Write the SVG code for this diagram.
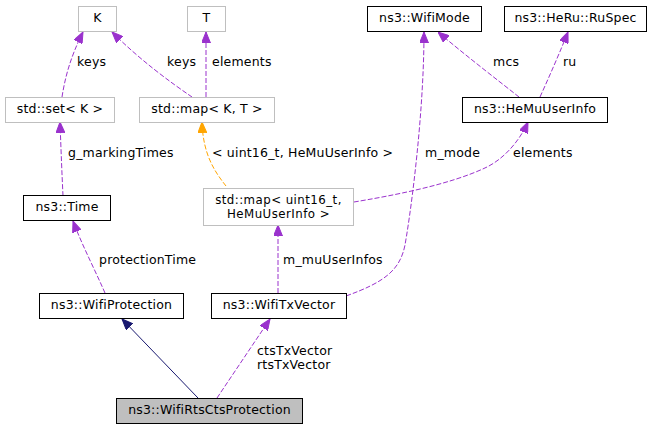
<svg xmlns="http://www.w3.org/2000/svg" width="652" height="429" viewBox="0 0 652 429">
<style>
text{font-family:"DejaVu Sans","Liberation Sans",sans-serif;font-size:12.5px;letter-spacing:0.2px;fill:#000}
.n text{text-anchor:middle}
.t2{font-size:11.8px;letter-spacing:0.45px}
.b{fill:#fff;stroke:#000;stroke-width:1}
.g{fill:#fff;stroke:#bfbfbf;stroke-width:1}
.e{fill:none;stroke:#9a32cd;stroke-width:1;stroke-dasharray:5,2}
.o{fill:none;stroke:#ffa500;stroke-width:1;stroke-dasharray:5,2}
.s{fill:none;stroke:#191970;stroke-width:1}
</style>
<defs>
<marker id="ap" viewBox="0 0 11 9" refX="11" refY="4.5" markerWidth="11" markerHeight="9" markerUnits="userSpaceOnUse" orient="auto"><path d="M0,0 L11,4.5 L0,9 Z" fill="#9a32cd" stroke="#9a32cd"/></marker>
<marker id="ao" viewBox="0 0 11 9" refX="11" refY="4.5" markerWidth="11" markerHeight="9" markerUnits="userSpaceOnUse" orient="auto"><path d="M0,0 L11,4.5 L0,9 Z" fill="#ffa500" stroke="#ffa500"/></marker>
<marker id="an" viewBox="0 0 11 9" refX="11" refY="4.5" markerWidth="11" markerHeight="9" markerUnits="userSpaceOnUse" orient="auto"><path d="M0,0 L11,4.5 L0,9 Z" fill="#191970" stroke="#191970"/></marker>
</defs>
<rect width="652" height="429" fill="#fff"/>
<g id="connectors">
<path class="e" d="M62,97 C65,78 70,58 83,32" marker-end="url(#ap)"/>
<path class="e" d="M192,97 C170,82 140,60 112,32" marker-end="url(#ap)"/>
<path class="e" d="M206,97 L206,32" marker-end="url(#ap)"/>
<path class="e" d="M63,196 C62,175 61,150 60,122" marker-end="url(#ap)"/>
<path class="o" d="M226,186 C215,172 203,155 202,122" marker-end="url(#ao)"/>
<path class="e" d="M354,202 C390,196 450,185 487,167 C505,158 520,140 528,122" marker-end="url(#ap)"/>
<path class="e" d="M519,97 C495,78 465,55 438,32" marker-end="url(#ap)"/>
<path class="e" d="M540,97 C550,75 560,52 568,32" marker-end="url(#ap)"/>
<path class="e" d="M346,296 C385,282 400,270 405,245 C412,205 424,110 424,32" marker-end="url(#ap)"/>
<path class="e" d="M278,293 L278,225" marker-end="url(#ap)"/>
<path class="e" d="M105,293 C95,270 82,245 73,221" marker-end="url(#ap)"/>
<path class="s" d="M198,398 L122,319" marker-end="url(#an)"/>
<path class="e" d="M217,398 L270,319" marker-end="url(#ap)"/>
<text x="77" y="66">keys</text>
<text x="167" y="66">keys</text>
<text x="212" y="66">elements</text>
<text x="493" y="66">mcs</text>
<text x="563" y="66">ru</text>
<text x="68" y="157">g_markingTimes</text>
<text x="212" y="157">&lt; uint16_t, HeMuUserInfo &gt;</text>
<text x="425" y="157">m_mode</text>
<text x="513" y="157">elements</text>
<text x="99" y="264">protectionTime</text>
<text x="283" y="264">m_muUserInfos</text>
<text x="257" y="355">ctsTxVector</text>
<text x="257" y="369">rtsTxVector</text>
</g>
<g id="K" class="n"><rect class="g" x="78.5" y="6.5" width="38" height="25"/><text x="97.5" y="22">K</text></g>
<g id="T" class="n"><rect class="g" x="187.5" y="6.5" width="38" height="25"/><text x="206.5" y="22">T</text></g>
<g id="stdset" class="n"><rect class="g" x="5.5" y="97.5" width="109" height="25"/><text x="60" y="113">std::set&lt; K &gt;</text></g>
<g id="stdmapKT" class="n"><rect class="g" x="139.5" y="97.5" width="135" height="25"/><text x="207" y="113">std::map&lt; K, T &gt;</text></g>
<g id="Time" class="n"><rect class="b" x="23.5" y="195.5" width="87" height="25"/><text x="67" y="211">ns3::Time</text></g>
<g id="stdmapHe" class="n"><rect class="g" x="203.5" y="188.5" width="150" height="37"/><text class="t2" x="278.5" y="203.5">std::map&lt; uint16_t,</text><text class="t2" x="278.5" y="217.5">HeMuUserInfo &gt;</text></g>
<g id="WifiMode" class="n"><rect class="b" x="367.5" y="6.5" width="114" height="25"/><text x="424.5" y="22">ns3::WifiMode</text></g>
<g id="RuSpec" class="n"><rect class="b" x="504.5" y="6.5" width="142" height="25"/><text x="575.5" y="22">ns3::HeRu::RuSpec</text></g>
<g id="HeMuUserInfo" class="n"><rect class="b" x="462.5" y="97.5" width="145" height="25"/><text x="535" y="113">ns3::HeMuUserInfo</text></g>
<g id="WifiProtection" class="n"><rect class="b" x="39.5" y="293.5" width="144" height="25"/><text x="111.5" y="309">ns3::WifiProtection</text></g>
<g id="WifiTxVector" class="n"><rect class="b" x="211.5" y="293.5" width="135" height="25"/><text x="279" y="309">ns3::WifiTxVector</text></g>
<g id="WifiRtsCtsProtection" class="n"><rect x="116.5" y="398.5" width="186" height="25" fill="#bfbfbf" stroke="#000"/><text x="209.5" y="414">ns3::WifiRtsCtsProtection</text></g>
</svg>
